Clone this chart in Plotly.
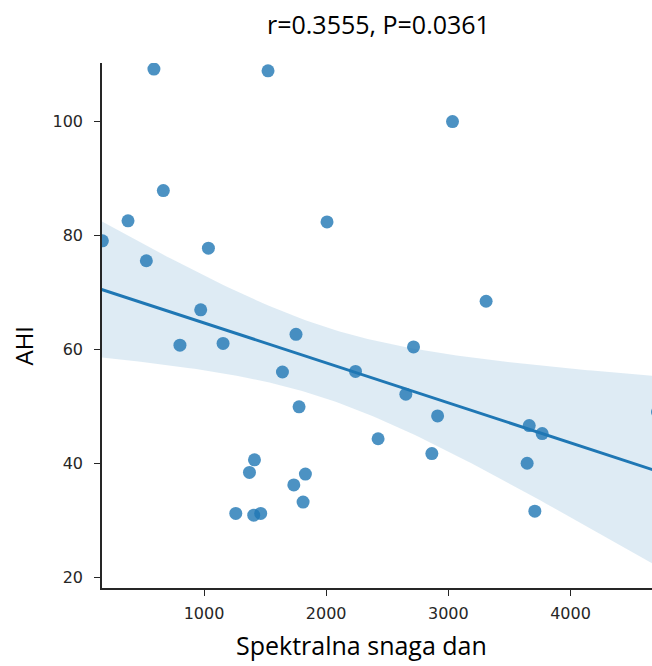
import numpy as np
import plotly.graph_objects as go

# Data
spektralna_snaga_dan = [590, 1524, 3034, 667, 378, 2007, 168, 528, 1036, 3309,
                        973, 803, 1156, 1753, 2715, 1642, 2240, 2652, 1778, 2912,
                        4712, 3662, 3768, 2425, 2865, 3645, 1413, 1372, 1830, 1735,
                        1811, 1260, 1407, 1464, 3708]
ahi = [109.1, 108.8, 99.9, 87.8, 82.5, 82.3, 79.0, 75.5, 77.7, 68.4,
       66.9, 60.7, 61.0, 62.6, 60.4, 56.0, 56.1, 52.1, 49.9, 48.3,
       49.0, 46.6, 45.2, 44.3, 41.7, 40.0, 40.6, 38.4, 38.1, 36.2,
       33.2, 31.2, 30.9, 31.2, 31.6]

title_text = "r=0.3555, P=0.0361"
x_label = "Spektralna snaga dan"
y_label = "AHI"
x_ticks = [1000, 2000, 3000, 4000]
y_ticks = [20, 40, 60, 80, 100]

x = np.array(spektralna_snaga_dan, dtype=float)
y = np.array(ahi, dtype=float)
n = len(x)

# Linear fit with confidence band (approximating seaborn's bootstrap band)
slope, intercept = np.polyfit(x, y, 1)
resid = y - (slope * x + intercept)
s = np.sqrt(np.sum(resid ** 2) / (n - 2))
xm = x.mean()
sxx = np.sum((x - xm) ** 2)
band_mult = 1.75

xg = np.linspace(x.min() - 10, x.max(), 120)
yg = slope * xg + intercept
se = s * np.sqrt(1.0 / n + (xg - xm) ** 2 / sxx)
upper = yg + band_mult * se
lower = yg - band_mult * se

blue = "#1f77b4"
axis_col = "#262626"

fig = go.Figure()
fig.add_trace(go.Scatter(
    x=np.concatenate([xg, xg[::-1]]), y=np.concatenate([upper, lower[::-1]]),
    fill="toself", fillcolor="rgba(31,119,180,0.15)", line=dict(width=0),
    mode="lines", hoverinfo="skip", showlegend=False))
fig.add_trace(go.Scatter(
    x=x, y=y, mode="markers",
    marker=dict(size=13, color="rgba(31,119,180,0.8)", line=dict(width=0)),
    showlegend=False))
fig.add_trace(go.Scatter(
    x=xg, y=yg, mode="lines", line=dict(color=blue, width=3), showlegend=False))

axis_common = dict(
    showgrid=False, zeroline=False, showline=True, linecolor=axis_col, linewidth=1.5,
    ticks="outside", ticklen=6, tickwidth=1.3, tickcolor=axis_col,
    tickfont=dict(family="DejaVu Sans", size=16, color=axis_col),
)

fig.update_layout(
    width=652, height=666,
    margin=dict(l=102, r=0, t=63, b=78),
    paper_bgcolor="white", plot_bgcolor="white",
    xaxis=dict(range=[165, 4667], tickvals=x_ticks, ticktext=[str(v) for v in x_ticks],
               ticklabelstandoff=4, **axis_common),
    yaxis=dict(range=[18.13, 110.17], tickvals=y_ticks, ticktext=[str(v) for v in y_ticks],
               ticklabelstandoff=8, **axis_common),
    annotations=[
        dict(text=title_text, xref="paper", yref="paper", x=0.502, y=1.0743,
             xanchor="center", yanchor="middle", showarrow=False,
             font=dict(family="Open Sans", size=25, color="black")),
        dict(text=x_label, xref="paper", yref="paper", x=0.471, y=-0.1086,
             xanchor="center", yanchor="middle", showarrow=False,
             font=dict(family="Open Sans", size=25, color="black")),
        dict(text=y_label, xref="paper", yref="paper", x=-0.1436, y=0.4619,
             xanchor="center", yanchor="middle", showarrow=False, textangle=-90,
             font=dict(family="Open Sans", size=24, color="black")),
    ],
)

fig.write_html("out.html")
